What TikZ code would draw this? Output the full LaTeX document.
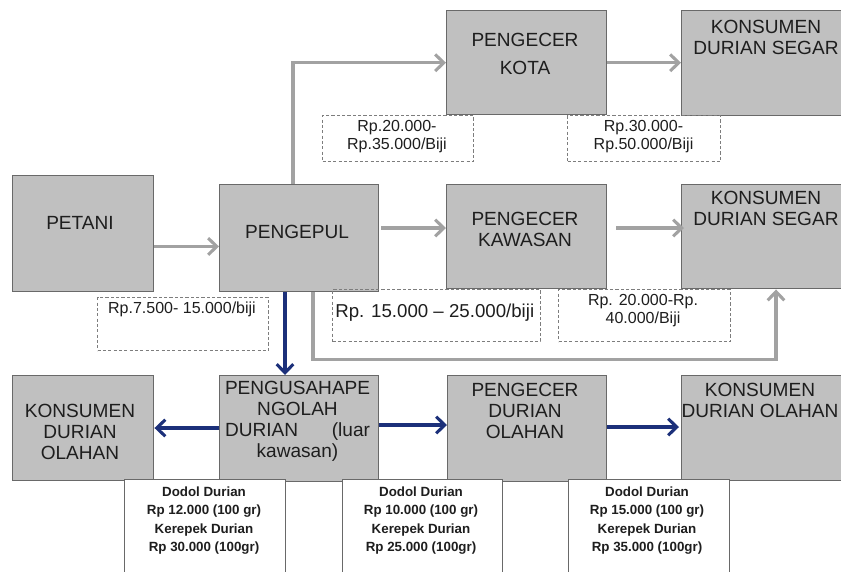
\documentclass[tikz,border=0pt]{standalone}
\usepackage{fontspec}
\setmainfont{Liberation Sans}
\usetikzlibrary{arrows.meta,calc}
\definecolor{boxfill}{RGB}{192,192,192}
\definecolor{boxline}{RGB}{105,105,105}
\definecolor{arrgray}{RGB}{162,162,162}
\definecolor{navy}{RGB}{28,48,122}
\definecolor{dashline}{RGB}{125,125,125}
\definecolor{txt}{RGB}{30,30,30}
\begin{document}
\begin{tikzpicture}[x=0.75pt,y=-0.75pt,
  box/.style n args={2}{draw=boxline,fill=boxfill,line width=1.1pt,anchor=north west,inner sep=0pt,
    minimum width=#1*0.75pt,minimum height=#2*0.75pt},
  wbox/.style n args={2}{draw=boxline,fill=white,line width=0.9pt,anchor=north west,inner sep=0pt,
    minimum width=#1*0.75pt,minimum height=#2*0.75pt},
  dbox/.style n args={2}{draw=dashline,line width=0.75pt,dash pattern=on 2.4pt off 1.6pt,anchor=north west,inner sep=0pt,
    minimum width=#1*0.75pt,minimum height=#2*0.75pt},
  btext/.style={font=\fontsize{14.3}{15.8}\selectfont,align=center,inner sep=0pt,text=txt},
  dtext/.style={font=\fontsize{12}{13.5}\selectfont,align=center,inner sep=0pt,text=txt},
  wtext/.style={font=\bfseries\fontsize{10}{13.75}\selectfont,align=center,inner sep=0pt,text=txt},
  garrow/.style={draw=arrgray,line width=2.3pt,-{Straight Barb[length=6.5pt,width=12.5pt]}},
  barrow/.style={draw=navy,line width=2.3pt,-{Straight Barb[length=6.5pt,width=12.5pt]}}
]
\useasboundingbox (0,0) rectangle (841,571);
\clip (0,0) rectangle (841,571);
\fill[white] (0,0) rectangle (841,571);

% grey boxes
\node[box={141}{116}] (petani) at (12,175) {};
\node[box={159}{107}] (pengepul) at (219,184) {};
\node[box={160}{104}] (kota) at (446,10) {};
\node[box={170}{105}] (kons1) at (681,10) {};
\node[box={160}{104}] (kawasan) at (446,184) {};
\node[box={170}{104}] (kons2) at (681,184) {};
\node[box={141}{105}] (konsL) at (12,375) {};
\node[box={159}{106}] (pengusaha) at (219,375) {};
\node[box={159}{106}] (olahan) at (447,375) {};
\node[box={170}{105}] (konsR) at (681,375) {};

% box texts
\node[btext] (tpetani) at (80,223) {PETANI};
\node[btext] (tpengepul) at (297,232) {PENGEPUL};
\node[btext] (tkota) at (525,54) {PENGECER\\[5pt]KOTA};
\node[btext] (tkons1) at (766,37) {KONSUMEN\\DURIAN SEGAR};
\node[btext] (tkawasan) at (525,229) {PENGECER\\KAWASAN};
\node[btext] (tkons2) at (766,208.5) {KONSUMEN\\DURIAN SEGAR};
\node[btext] (tkonsL) at (80,432) {KONSUMEN\\DURIAN\\OLAHAN};
\node[btext,text width=108.75pt] (tpengusaha) at (297.5,421.5) {PENGUSAHAPE\\NGOLAH\\DURIAN\hfill(luar\\kawasan)};
\node[btext] (tolahan) at (525,411) {PENGECER\\DURIAN\\OLAHAN};
\node[btext] (tkonsR) at (760,400) {KONSUMEN\\DURIAN OLAHAN};

% white price boxes
\node[wbox={161}{100}] (w1) at (124,479) {};
\node[wbox={160}{100}] (w2) at (342,479) {};
\node[wbox={161}{100}] (w3) at (568,479) {};
\node[wtext] (tw1) at (204,520.5) {Dodol Durian\\Rp 12.000 (100 gr)\\Kerepek Durian\\Rp 30.000 (100gr)};
\node[wtext] (tw2) at (421,520.5) {Dodol Durian\\Rp 10.000 (100 gr)\\Kerepek Durian\\Rp 25.000 (100gr)};
\node[wtext] (tw3) at (647,520.5) {Dodol Durian\\Rp 15.000 (100 gr)\\Kerepek Durian\\Rp 35.000 (100gr)};

% grey connectors
\coordinate (a1) at ($(petani.south east)+(0,-46)$);
\draw[garrow] (a1) -- (a1 -| pengepul.west);
\draw[garrow] ($(pengepul.north west)+(74,0)$) |- (kota.west);
\draw[garrow] (kota.east) -- (kota.east -| kons1.west);
\coordinate (a2) at ($(pengepul.north east)+(2,44)$);
\draw[garrow] (a2) -- (a2 -| kawasan.west);
\coordinate (a3) at ($(kawasan.north east)+(9,44)$);
\draw[garrow] (a3) -- ($(a3 -| kons2.west)+(3,0)$);
\draw[garrow] ($(pengepul.south west)+(94,0)$) -- ++(0,67) -| ($(kons2.south west)+(95,0)$);

% blue connectors
\coordinate (b1) at ($(pengepul.south west)+(66,0)$);
\draw[barrow] (b1) -- (b1 |- pengusaha.north);
\coordinate (b2) at ($(pengusaha.north west)+(0,53)$);
\draw[barrow] (b2) -- (b2 -| konsL.east);
\coordinate (b3) at ($(pengusaha.north east)+(0,50)$);
\draw[barrow] (b3) -- (b3 -| olahan.west);
\coordinate (b4) at ($(olahan.north east)+(0,52)$);
\draw[barrow] (b4) -- ($(b4 -| konsR.west)+(-2,0)$);

% dashed price boxes
\node[dbox={151}{46}] (d1) at (322,115) {};
\node[dbox={153}{46}] (d2) at (567,115) {};
\node[dbox={171}{53}] (d3) at (97,297) {};
\node[dbox={208}{52}] (d4) at (332,289) {};
\node[dbox={172}{52}] (d5) at (558,289) {};
\node[dtext] (td1) at (397,137) {Rp.20.000-\\Rp.35.000/Biji};
\node[dtext] (td2) at (643.5,137) {Rp.30.000-\\Rp.50.000/Biji};
\node[dtext] (td3) at (182,309) {Rp.7.500- 15.000/biji};
\node[dtext,font=\fontsize{14}{16}\selectfont,anchor=west] (td4) at (335,313) {Rp. 15.000 – 25.000/biji};
\node[dtext] (td5) at (643,310.5) {Rp. 20.000-Rp.\\40.000/Biji};
\end{tikzpicture}
\end{document}
